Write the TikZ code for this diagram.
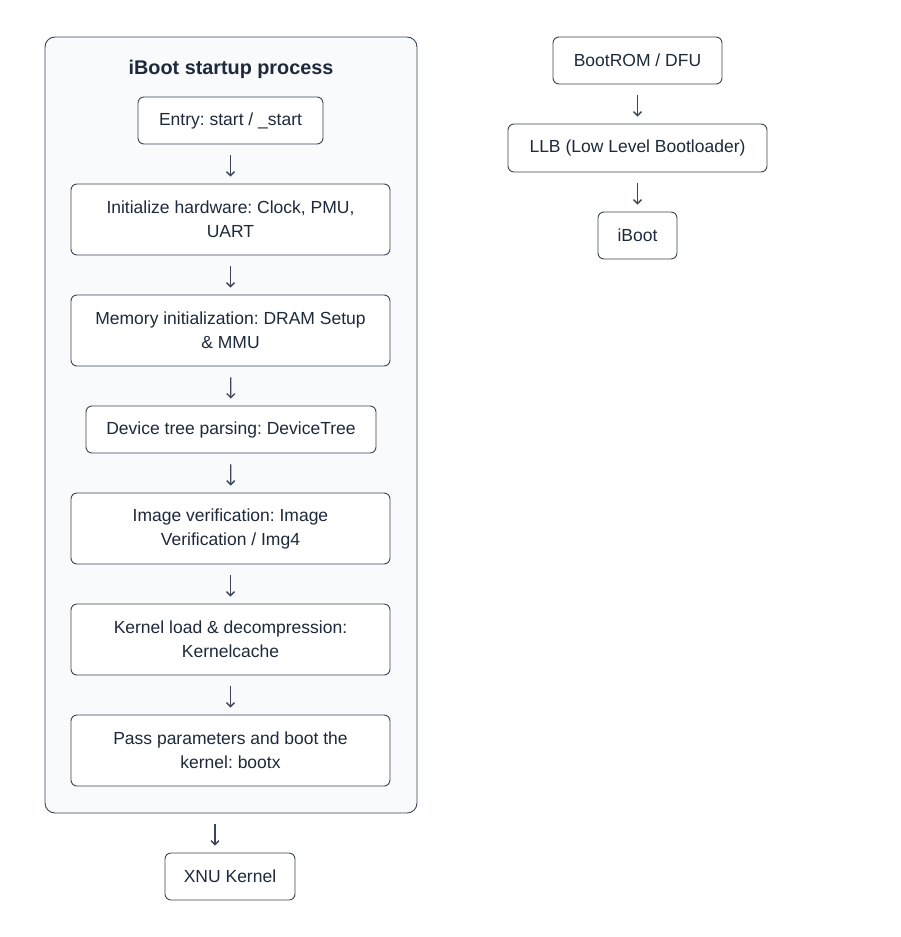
\documentclass[tikz,border=0pt]{standalone}
\usepackage{fontspec}
\setmainfont{Liberation Sans}
\usepackage{tikz}
\usepackage{xcolor}
\usetikzlibrary{arrows.meta,positioning,calc}
\definecolor{ink}{HTML}{1E293B}
\definecolor{edge}{HTML}{3B4556}
\definecolor{panel}{HTML}{F8FAFC}
\frenchspacing
\tikzset{
  stepbox/.style={draw=edge, fill=white, rounded corners=6pt, line width=0.9pt,
                  align=center, inner sep=0pt, text=ink,
                  font=\fontsize{17.5}{24}\selectfont},
  groupbox/.style={draw=edge, fill=panel, rounded corners=10pt, line width=0.9pt},
  flow/.style={-{Straight Barb[length=4pt,width=8pt,line width=1.3pt]}, line width=1.3pt, draw=edge,
               shorten <=11pt, shorten >=7pt}
}
\begin{document}
\begin{tikzpicture}[x=1pt,y=-1pt]
  \useasboundingbox (0,0) rectangle (900,937);

  \node[groupbox,minimum width=372pt,minimum height=776pt] (grp) at (231,425) {};
  \node[font=\fontsize{19.8}{24}\selectfont\bfseries,text=ink] (title) at (231,69) {iBoot startup process};

  \node[stepbox,minimum width=185pt,minimum height=47pt] (entry) at (230.5,120.5) {Entry: start / \_start};
  \node[stepbox,minimum width=319pt,minimum height=71pt] (hw) at (230.5,219.5) {Initialize hardware: Clock, PMU,\\UART};
  \node[stepbox,minimum width=319pt,minimum height=71pt] (mem) at (230.5,330.5) {Memory initialization: DRAM Setup\\\& MMU};
  \node[stepbox,minimum width=290pt,minimum height=47pt] (dt) at (231,429.5) {Device tree parsing: DeviceTree};
  \node[stepbox,minimum width=319pt,minimum height=71pt] (img) at (230.5,528.5) {Image verification: Image\\Verification / Img4};
  \node[stepbox,minimum width=319pt,minimum height=71pt] (kern) at (230.5,639.5) {Kernel load \& decompression:\\Kernelcache};
  \node[stepbox,minimum width=319pt,minimum height=71pt] (bootx) at (230.5,750.5) {Pass parameters and boot the\\kernel: bootx};

  \node[stepbox,minimum width=130pt,minimum height=47pt] (xnu) at (230,876.5) {XNU Kernel};

  \node[stepbox,minimum width=169pt,minimum height=47pt] (rom) at (637.5,60.5) {BootROM / DFU};
  \node[stepbox,minimum width=259pt,minimum height=48pt] (llb) at (637.5,148) {LLB (Low Level Bootloader)};
  \node[stepbox,minimum width=79pt,minimum height=47pt] (iboot) at (637.5,235.5) {iBoot};

  \draw[flow] (entry) -- (hw);
  \draw[flow] (hw) -- (mem);
  \draw[flow] (mem) -- (dt);
  \draw[flow] (dt) -- (img);
  \draw[flow] (img) -- (kern);
  \draw[flow] (kern) -- (bootx);
  \draw[flow] ([xshift=-16pt]grp.south) -- ([xshift=-15pt]xnu.north);

  \draw[flow] (rom) -- (llb);
  \draw[flow] (llb) -- (iboot);
\end{tikzpicture}
\end{document}
